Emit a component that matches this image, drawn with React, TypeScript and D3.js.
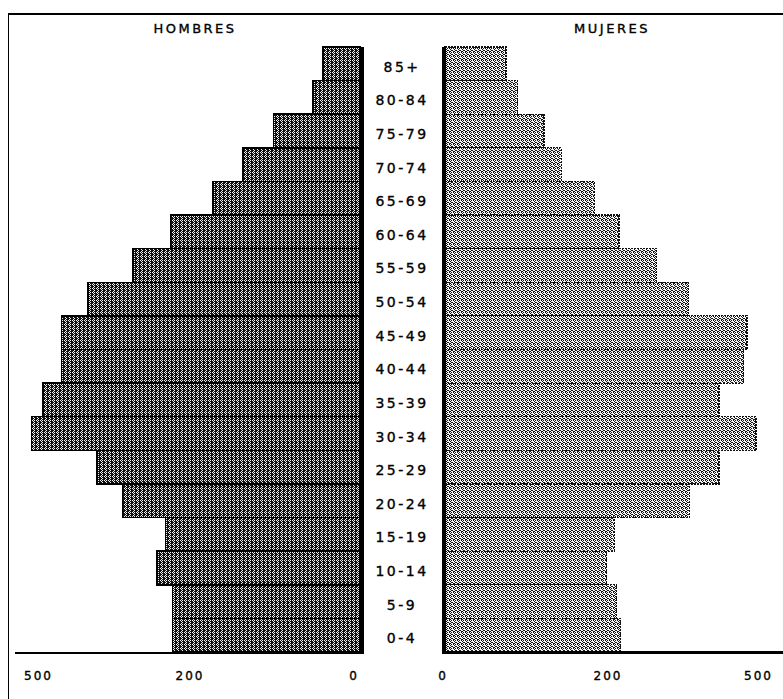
import React from "react";
import * as d3 from "d3";

const ages = ["85+", "80-84", "75-79", "70-74", "65-69", "60-64", "55-59", "50-54", "45-49", "40-44", "35-39", "30-34", "25-29", "20-24", "15-19", "10-14", "5-9", "0-4"];
const hombres = [45, 57, 105, 142, 178, 230, 275, 330, 362, 362, 384, 398, 319, 288, 236, 246, 227, 227];
const mujeres = [74, 88, 120, 141, 181, 211, 256, 295, 366, 362, 332, 377, 332, 296, 205, 196, 208, 213];
const tickValues = [0, 200, 400];
const tickLabelsLeft = ["0", "200", "500"];
const tickLabelsRight = ["0", "200", "500"];

const W = 783;
const H = 699;
const FONT = "DejaVu Sans, Verdana, sans-serif";

// pixel masks for the dithered fills (4x4 cells)
const menLight = [[0, 0], [2, 0], [1, 1], [2, 2], [1, 3]];
const womenDark = [[1, 0], [3, 0], [2, 1], [0, 2], [3, 2], [1, 3], [2, 3]];

export default function App() {
  const y = d3.scaleBand<string>().domain(ages).range([47, 652]).padding(0);
  const xL = d3.scaleLinear().domain([0, 400]).range([360, 30]);
  const xR = d3.scaleLinear().domain([0, 400]).range([445, 775]);
  const bw = y.bandwidth();

  const leftTick = (v: number, i: number) => {
    if (i === 0) return { x: xL(v) - 6, anchor: "middle" };
    if (i === tickValues.length - 1) return { x: xL(v) - 6, anchor: "start" };
    return { x: xL(v) - 5, anchor: "middle" };
  };
  const rightTick = (v: number, i: number) => {
    if (i === 0) return { x: xR(v) - 2, anchor: "middle" };
    if (i === tickValues.length - 1) return { x: xR(v) - 2, anchor: "end" };
    return { x: xR(v) - 2, anchor: "middle" };
  };

  const txt = { fontFamily: FONT, fill: "#000", stroke: "#000", strokeWidth: 0.35 };

  return (
    <svg width={W} height={H} style={{ position: "absolute", left: 0, top: 0, background: "#fff" }}>
      <defs>
        <pattern id="pm" width="4" height="4" patternUnits="userSpaceOnUse">
          <rect width="4" height="4" fill="#111" shapeRendering="crispEdges" />
          {menLight.map(([px, py], k) => (
            <rect key={k} x={px} y={py} width={1} height={1} fill="#f2f2f2" shapeRendering="crispEdges" />
          ))}
        </pattern>
        <pattern id="pw" width="4" height="4" patternUnits="userSpaceOnUse">
          <rect width="4" height="4" fill="#f6f6f6" shapeRendering="crispEdges" />
          {womenDark.map(([px, py], k) => (
            <rect key={k} x={px} y={py} width={1} height={1} fill="#151515" shapeRendering="crispEdges" />
          ))}
        </pattern>
      </defs>

      <g shapeRendering="crispEdges">
        {/* frame */}
        <line x1={8} x2={W} y1={14} y2={14} stroke="#000" strokeWidth={2} />
        <line x1={8.5} x2={8.5} y1={13} y2={H} stroke="#000" strokeWidth={1.5} />

        {/* men bars */}
        {ages.map((a, i) => (
          <rect key={"m" + a} x={xL(hombres[i])} y={y(a)!} width={xL(0) - xL(hombres[i])} height={bw}
            fill="url(#pm)" stroke="#000" strokeWidth={1.5} />
        ))}
        {/* women bars */}
        {ages.map((a, i) => (
          <rect key={"w" + a} x={xR(0)} y={y(a)!} width={xR(mujeres[i]) - xR(0)} height={bw}
            fill="url(#pw)" stroke="#111" strokeWidth={1.2} strokeDasharray="2,1" />
        ))}

        {/* zero lines */}
        <line x1={361} x2={361} y1={47} y2={654} stroke="#000" strokeWidth={5} />
        <line x1={444} x2={444} y1={47} y2={654} stroke="#000" strokeWidth={4} />

        {/* axes */}
        <line x1={15} x2={362} y1={652.5} y2={652.5} stroke="#000" strokeWidth={2} />
        <line x1={443} x2={W} y1={652.5} y2={652.5} stroke="#000" strokeWidth={2.5} />
      </g>

      {/* titles */}
      <text x={195} y={33} textAnchor="middle" fontSize={13} letterSpacing={2.5} {...txt}>HOMBRES</text>
      <text x={612} y={33} textAnchor="middle" fontSize={13} letterSpacing={2.5} {...txt}>MUJERES</text>

      {/* age labels */}
      {ages.map((a) => (
        <text key={"l" + a} x={402} y={y(a)! + bw / 2 + 8} textAnchor="middle"
          fontSize={14} letterSpacing={2.5} {...txt}>{a}</text>
      ))}

      {/* tick labels */}
      {tickValues.map((v, i) => {
        const t = leftTick(v, i);
        return (
          <text key={"tl" + v} x={t.x} y={680} textAnchor={t.anchor}
            fontSize={12} letterSpacing={2} {...txt}>{tickLabelsLeft[i]}</text>
        );
      })}
      {tickValues.map((v, i) => {
        const t = rightTick(v, i);
        return (
          <text key={"tr" + v} x={t.x} y={680} textAnchor={t.anchor}
            fontSize={12} letterSpacing={2} {...txt}>{tickLabelsRight[i]}</text>
        );
      })}
    </svg>
  );
}
